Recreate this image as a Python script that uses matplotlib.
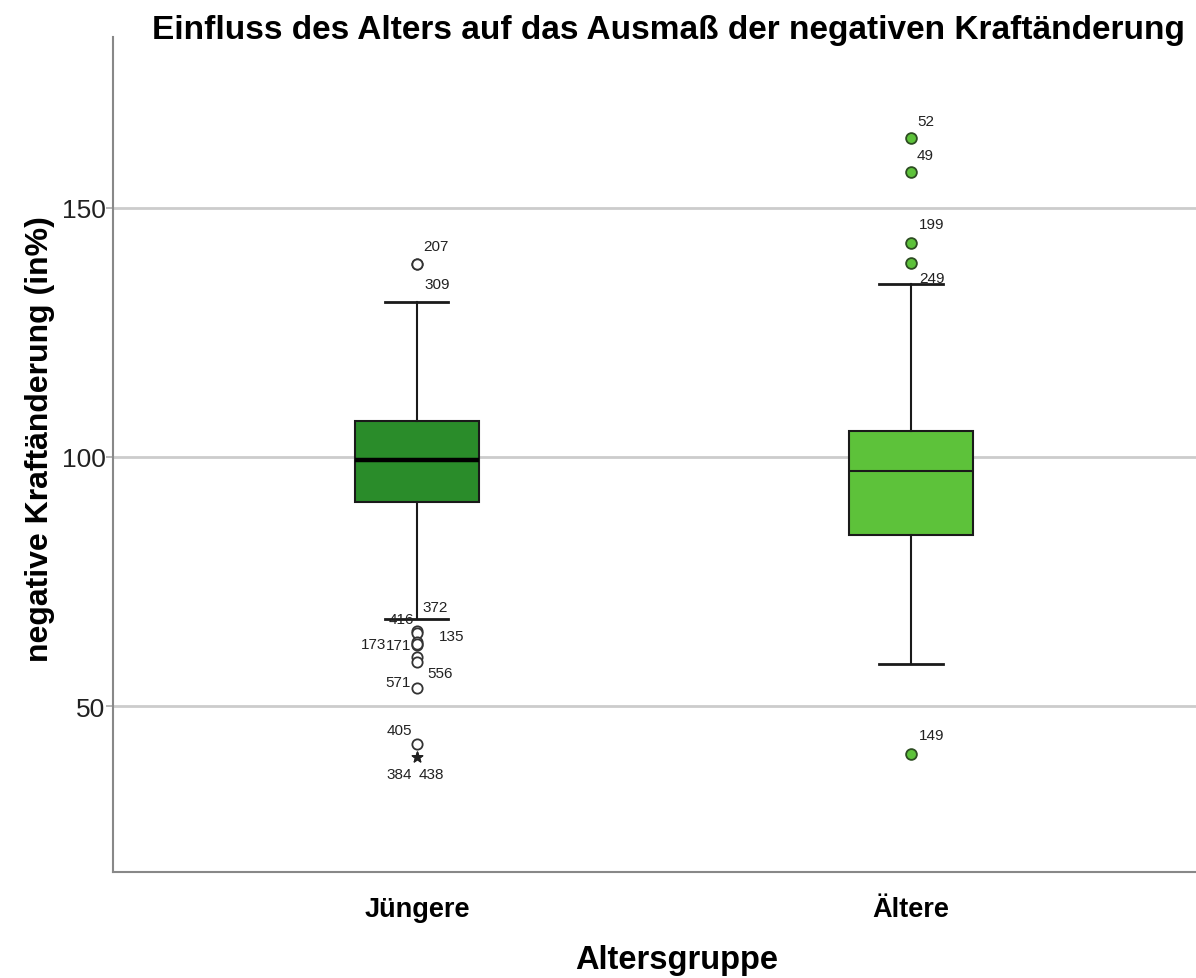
import matplotlib.pyplot as plt

plt.rcParams['font.family'] = ['Liberation Sans', 'DejaVu Sans']

# Altersgruppen und Kennwerte der Boxplots (negative Kraftänderung in %)
groups = ['Jüngere', 'Ältere']
q1 = [91.0, 84.4]
median = [99.3, 97.1]
q3 = [107.3, 105.3]
whisker_low = [67.5, 58.5]
whisker_high = [131.1, 134.7]
box_colors = ['#2a8c2a', '#5dc23a']

# Ausreißer (Fallnummer, Wert) je Gruppe
young_out_ids = ['207', '309', '372', '416', '173', '171', '135', '', '556', '571', '405']
young_out_vals = [138.7, 138.7, 65.2, 64.7, 63.0, 62.3, 62.5, 59.9, 58.9, 53.7, 42.5]
young_ext_ids = ['384', '438']
young_ext_vals = [39.9, 39.9]
old_out_ids = ['52', '49', '199', '249', '149']
old_out_vals = [163.9, 157.1, 142.9, 138.9, 40.5]

# Beschriftungsversatz der Fallnummern in Pixeln
young_out_offsets = [(6, 18), (8, -20), (6, 24), (-28, 14), (-56, -2), (-31, 0),
                     (22, 8), (0, 0), (10, -11), (-32, 6), (-30, 14)]
young_ext_offsets = [(-30, -17), (2, -17)]
old_out_offsets = [(6, 17), (6, 17), (8, 19), (8, -15), (8, 19)]

fig = plt.figure(figsize=(11.96, 9.79), dpi=100)
ax = fig.add_axes([0.0945, 0.1083, 0.9055, 0.8529])

stats = []
for i, g in enumerate(groups):
    stats.append({'label': g, 'med': median[i], 'q1': q1[i], 'q3': q3[i],
                  'whislo': whisker_low[i], 'whishi': whisker_high[i], 'fliers': []})

pos = list(range(len(groups)))
bp = ax.bxp(stats, positions=pos, widths=0.251, patch_artist=True, showfliers=False,
            capwidths=0.128, zorder=3)
for patch, c in zip(bp['boxes'], box_colors):
    patch.set_facecolor(c)
    patch.set_edgecolor('#1a1a1a')
    patch.set_linewidth(1.5)
for w in bp['whiskers']:
    w.set_color('#1a1a1a')
    w.set_linewidth(1.5)
for c in bp['caps']:
    c.set_color('#1a1a1a')
    c.set_linewidth(2)
bp['medians'][0].set_color('black')
bp['medians'][0].set_linewidth(3.2)
bp['medians'][1].set_color('#1a1a1a')
bp['medians'][1].set_linewidth(1.5)


def label_points(x, vals, ids, offsets):
    for v, t, (dx, dy) in zip(vals, ids, offsets):
        if t:
            ax.annotate(t, (x, v), xytext=(dx, dy), textcoords='offset pixels',
                        fontsize=11, color='#222222', va='center', ha='left', zorder=5)


# Jüngere: offene Kreise, Extremwerte als Stern
ax.scatter([pos[0]] * len(young_out_vals), young_out_vals, s=55, facecolor='white',
           edgecolor='#333333', linewidth=1.3, zorder=4)
ax.scatter([pos[0]] * len(young_ext_vals), young_ext_vals, s=60, marker='*',
           color='#222222', zorder=4)
label_points(pos[0], young_out_vals, young_out_ids, young_out_offsets)
label_points(pos[0], young_ext_vals, young_ext_ids, young_ext_offsets)

# Ältere: gefüllte Kreise
ax.scatter([pos[1]] * len(old_out_vals), old_out_vals, s=60, facecolor=box_colors[1],
           edgecolor='#2d4d22', linewidth=1.3, zorder=4)
label_points(pos[1], old_out_vals, old_out_ids, old_out_offsets)

ax.set_xlim(-0.615, 1.577)
ax.set_ylim(16.8, 184.2)
ax.set_yticks([50, 100, 150])
ax.yaxis.grid(True, color='#cccccc', linewidth=2)
ax.set_axisbelow(True)

ax.spines['top'].set_visible(False)
ax.spines['right'].set_visible(False)
ax.spines['left'].set_color('#888888')
ax.spines['bottom'].set_color('#888888')
ax.spines['left'].set_linewidth(1.5)
ax.spines['bottom'].set_linewidth(1.5)
ax.tick_params(axis='y', labelsize=19, color='#aaaaaa', length=5, width=1.2,
               labelcolor='#222222', pad=0.5)
ax.tick_params(axis='x', length=0, pad=17)
ax.set_xticks(pos)
ax.set_xticklabels(groups, fontsize=19.5, fontweight='bold')

ax.set_ylabel('negative Kraftänderung (in%)', fontsize=23, fontweight='bold')
ax.yaxis.set_label_coords(-0.0674, 0.52)
ax.yaxis.label.set_va('center')
ax.set_xlabel('Altersgruppe', fontsize=23.5, fontweight='bold')
ax.xaxis.set_label_coords(0.5208, -0.1045)
ax.xaxis.label.set_va('center')

fig.text(0.5585, 0.969, 'Einfluss des Alters auf das Ausmaß der negativen Kraftänderung',
         fontsize=24, fontweight='bold', ha='center', va='center')

fig.savefig('out.png', dpi=100)
